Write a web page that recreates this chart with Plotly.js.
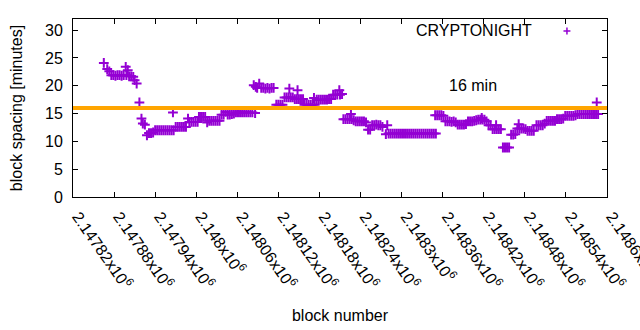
<!DOCTYPE html>
<html>
<head>
<meta charset="utf-8">
<script src="https://cdn.plot.ly/plotly-3.0.1.min.js"></script>
<style>html,body{margin:0;padding:0;background:#fff;}#chart{width:640px;height:330px;}</style>
</head>
<body>
<div id="chart"></div>
<script>
// block numbers (x) and block spacing in minutes (y)
const blocks = [
2147865,2147870,2147873,2147876,2147879,2147882,2147885,2147888,2147891,2147894,
2147897,2147898,2147900,2147902,2147905,2147908,2147910,2147913,2147917,2147920,
2147922,2147925,2147928,2147931,2147934,2147937,2147940,2147943,2147946,2147949,
2147952,2147955,2147958,2147961,2147964,2147966,2147967,2147970,2147973,2147976,
2147979,2147982,2147985,2147988,2147990,2147993,2147996,2147999,2148002,2148004,
2148007,2148010,2148013,2148016,2148019,2148022,2148025,2148028,2148031,2148034,
2148037,2148040,2148043,2148046,2148049,2148052,2148055,2148058,2148061,2148064,
2148067,2148070,2148073,2148076,2148079,2148082,2148084,2148086,2148087,2148089,
2148092,2148095,2148098,2148101,2148104,2148107,2148110,2148113,2148117,2148120,
2148123,2148126,2148129,2148132,2148135,2148136,2148138,2148141,2148144,2148147,
2148148,2148150,2148153,2148156,2148158,2148161,2148164,2148167,2148170,2148172,
2148173,2148176,2148179,2148182,2148185,2148188,2148191,2148194,2148197,2148200,
2148203,2148206,2148209,2148210,2148213,2148215,2148218,2148221,2148224,2148226,
2148227,2148230,2148233,2148236,2148239,2148242,2148245,2148248,2148251,2148254,
2148257,2148260,2148263,2148266,2148269,2148272,2148277,2148279,2148281,2148284,
2148287,2148290,2148293,2148296,2148299,2148302,2148305,2148308,2148311,2148314,
2148317,2148320,2148323,2148326,2148329,2148332,2148335,2148338,2148341,2148344,
2148347,2148350,2148349,2148352,2148355,2148358,2148361,2148364,2148367,2148370,
2148373,2148376,2148379,2148382,2148385,2148388,2148391,2148394,2148397,2148400,
2148403,2148406,2148409,2148412,2148415,2148417,2148418,2148421,2148424,2148427,
2148430,2148433,2148436,2148438,2148439,2148442,2148445,2148448,2148451,2148454,
2148457,2148460,2148463,2148466,2148469,2148471,2148472,2148475,2148478,2148481,
2148484,2148487,2148490,2148493,2148497,2148500,2148503,2148506,2148509,2148512,
2148515,2148518,2148521,2148524,2148527,2148530,2148533,2148536,2148539,2148542,
2148545,2148548,2148551,2148554,2148557,2148560,2148563,2148566,2148569,2148572,
2148575,2148578,2148581,2148584,2148585,2148587
];
const spacing = [
24.1,23.0,22.6,21.9,21.9,21.8,21.9,21.9,21.8,21.9,
23.4,21.9,22.8,21.7,21.7,21.6,21.0,20.4,17.0,14.1,
13.2,13.0,11.1,11.5,11.5,11.6,12.0,12.0,12.0,12.0,
12.0,12.0,12.0,12.0,12.0,15.2,12.0,12.6,12.6,12.6,
12.6,12.6,12.6,14.1,13.5,13.5,13.5,13.5,13.5,14.4,
14.4,14.4,14.4,13.4,13.7,13.7,13.7,13.7,13.7,13.7,
14.8,14.8,15.3,14.8,14.8,14.9,15.0,15.2,15.2,15.2,
15.2,15.2,15.2,15.2,15.2,15.2,20.1,15.1,19.8,19.6,
20.4,19.6,19.6,19.5,19.6,19.5,19.6,19.6,16.6,16.6,
16.6,16.6,17.9,17.9,17.9,19.5,17.9,17.9,17.6,17.6,
19.2,17.6,17.6,17.6,16.6,16.6,16.6,16.6,16.6,17.8,
16.6,17.5,17.5,17.5,17.5,17.5,17.5,17.6,17.6,18.4,
18.4,18.4,19.2,18.4,18.5,14.0,14.0,14.0,14.0,14.9,
14.0,13.8,13.6,13.6,13.6,13.6,13.6,13.4,12.1,12.1,
12.9,12.9,13.0,12.9,12.9,12.6,11.3,12.9,11.4,11.4,
11.4,11.4,11.4,11.4,11.4,11.4,11.4,11.4,11.4,11.4,
11.4,11.4,11.4,11.4,11.4,11.4,11.4,11.4,11.4,11.4,
11.4,11.4,14.7,14.7,14.7,14.7,14.6,13.6,13.6,13.6,
13.5,13.6,13.4,13.0,13.0,13.0,13.0,13.1,13.6,13.6,
13.6,13.7,13.8,13.9,13.9,14.2,13.9,13.9,13.6,12.9,
12.9,12.2,12.2,12.9,12.2,12.2,12.2,8.9,8.9,8.9,
8.9,11.2,11.2,11.3,12.3,13.1,12.3,12.3,12.3,12.2,
11.9,11.9,11.9,11.9,12.9,12.9,12.9,12.9,13.2,13.7,
13.7,13.7,13.7,13.7,14.0,14.0,14.0,14.1,14.6,14.6,
14.6,14.6,14.6,14.7,14.9,14.9,14.9,14.9,14.9,14.9,
14.9,14.9,14.9,14.9,17.0,14.9
];
const seriesName = "CRYPTONIGHT";
const thresholdX = [2147820, 2148600];
const thresholdY = [16, 16];
const thresholdLabel = "16 min";
const xTickVals = [2147820,2147880,2147940,2148000,2148060,2148120,2148180,2148240,2148300,2148360,2148420,2148480,2148540,2148600];
const xTickText = ["2.14782x10<sup>6</sup>","2.14788x10<sup>6</sup>","2.14794x10<sup>6</sup>","2.148x10<sup>6</sup>","2.14806x10<sup>6</sup>","2.14812x10<sup>6</sup>","2.14818x10<sup>6</sup>","2.14824x10<sup>6</sup>","2.1483x10<sup>6</sup>","2.14836x10<sup>6</sup>","2.14842x10<sup>6</sup>","2.14848x10<sup>6</sup>","2.14854x10<sup>6</sup>","2.1486x10<sup>6</sup>"];
const yTickVals = [0, 5, 10, 15, 20, 25, 30];

const PURPLE = "#9400D3";
const FONT = "Liberation Sans, Arial, sans-serif";
const FS = 16;

const traces = [
  {
    x: blocks, y: spacing, type: "scatter", mode: "markers", name: seriesName,
    marker: {symbol: "cross-thin-open", size: 7, color: PURPLE, line: {color: PURPLE, width: 2}},
    showlegend: false, hoverinfo: "skip"
  },
  {
    x: thresholdX, y: thresholdY, type: "scatter", mode: "lines",
    line: {color: "#FFA500", width: 4}, showlegend: false, hoverinfo: "skip"
  }
];

const axisCommon = {
  showline: true, linecolor: "#000", linewidth: 1, mirror: "ticks",
  ticks: "inside", ticklen: 5, tickcolor: "#000", tickwidth: 1,
  showgrid: false, zeroline: false,
  tickfont: {family: FONT, size: FS, color: "#000"}
};

const layout = {
  width: 640, height: 330,
  margin: {l: 73, r: 33, t: 19, b: 133},
  paper_bgcolor: "#fff", plot_bgcolor: "#fff",
  font: {family: FONT, size: FS, color: "#000"},
  xaxis: Object.assign({}, axisCommon, {
    range: [2147820, 2148600], tickmode: "array", tickvals: xTickVals, ticktext: xTickText,
    tickangle: 55, automargin: false, ticklabelstandoff: 3, ticklabelshift: 5, ticklabeloverflow: "allow",
    title: {text: "block number", font: {family: FONT, size: FS, color: "#000"}, standoff: 18}
  }),
  yaxis: Object.assign({}, axisCommon, {
    range: [0, 32], tickmode: "array", tickvals: yTickVals, automargin: false, ticklabelstandoff: 6,
    title: {text: "block spacing [minutes]", font: {family: FONT, size: FS, color: "#000"}, standoff: 18}
  }),
  annotations: [
    {text: thresholdLabel, x: 2148367, y: 20, xref: "x", yref: "y", xanchor: "left", yanchor: "middle",
     showarrow: false, font: {family: FONT, size: FS, color: "#000"}},
    {text: seriesName, x: 0.8633, y: 0.9326, xref: "paper", yref: "paper", xanchor: "right", yanchor: "middle",
     showarrow: false, font: {family: FONT, size: FS, color: "#000"}}
  ],
  shapes: [
    {type: "line", xref: "paper", yref: "paper", x0: 0.9185, x1: 0.9315, y0: 0.9326, y1: 0.9326, line: {color: PURPLE, width: 1.5}},
    {type: "line", xref: "paper", yref: "paper", x0: 0.925, x1: 0.925, y0: 0.9130, y1: 0.9522, line: {color: PURPLE, width: 1.5}}
  ],
  showlegend: false
};

Plotly.newPlot("chart", traces, layout, {displayModeBar: false, staticPlot: true});
</script>
</body>
</html>
